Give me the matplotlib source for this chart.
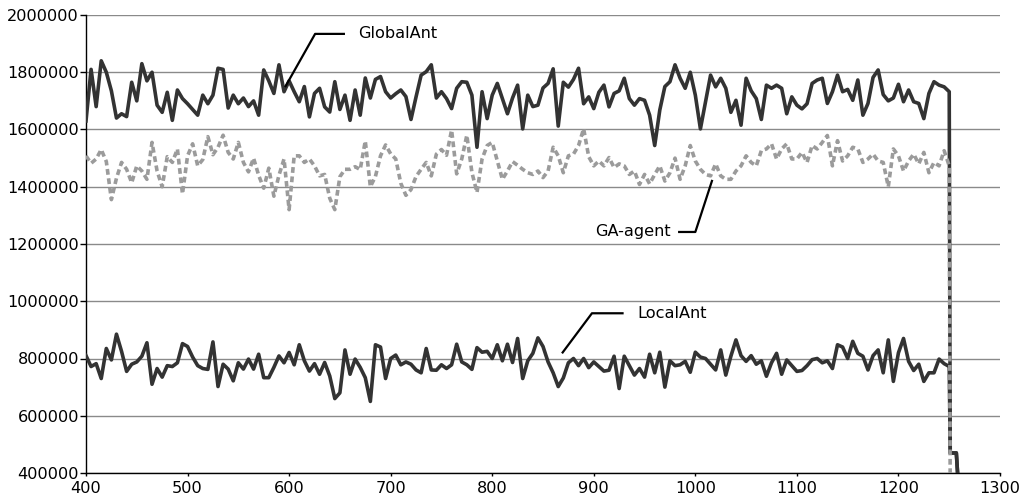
import numpy as np
import matplotlib
matplotlib.use("Agg")
import matplotlib.pyplot as plt
from matplotlib.ticker import MultipleLocator, FuncFormatter

# Iterations sampled every 5 steps, values in thousands
iterations = np.arange(400, 1251, 5)

global_ant = [
    1630, 1810, 1680, 1840, 1800, 1735, 1640, 1655, 1645, 1765,
    1700, 1830, 1770, 1800, 1685, 1660, 1730, 1632, 1738, 1708,
    1690, 1670, 1650, 1720, 1690, 1720, 1814, 1810, 1675, 1720,
    1690, 1710, 1680, 1700, 1650, 1808, 1770, 1726, 1826, 1732,
    1770, 1732, 1697, 1750, 1644, 1726, 1744, 1679, 1661, 1767,
    1670, 1720, 1632, 1738, 1650, 1780, 1710, 1775, 1785, 1732,
    1710, 1725, 1738, 1715, 1635, 1714, 1790, 1802, 1826, 1710,
    1732, 1708, 1673, 1744, 1767, 1765, 1720, 1538, 1732, 1638,
    1720, 1761, 1708, 1655, 1710, 1755, 1602, 1720, 1680, 1685,
    1745, 1761, 1812, 1612, 1765, 1748, 1775, 1814, 1690, 1714,
    1673, 1730, 1755, 1679, 1726, 1735, 1779, 1708, 1685, 1708,
    1702, 1650, 1544, 1668, 1750, 1767, 1826, 1779, 1744, 1800,
    1720, 1602, 1697, 1790, 1749, 1779, 1744, 1660, 1702, 1615,
    1779, 1735, 1708, 1635, 1755, 1744, 1755, 1744, 1655, 1714,
    1685, 1672, 1690, 1761, 1773, 1779, 1691, 1732, 1790, 1732,
    1740, 1702, 1773, 1650, 1691, 1782, 1808, 1722, 1700, 1710,
    1758, 1697, 1738, 1697, 1691, 1638, 1726, 1767, 1755, 1749,
    1732,
]

ga_agent = [
    1508, 1482, 1497, 1530, 1488, 1355, 1430, 1485, 1461, 1414,
    1473, 1455, 1426, 1555, 1455, 1400, 1505, 1485, 1532, 1375,
    1508, 1550, 1473, 1495, 1575, 1512, 1538, 1580, 1520, 1497,
    1555, 1485, 1452, 1500, 1440, 1395, 1465, 1367, 1440, 1497,
    1320, 1508, 1508, 1485, 1497, 1473, 1438, 1443, 1360, 1320,
    1435, 1461, 1461, 1470, 1460, 1560, 1400, 1436, 1508, 1546,
    1515, 1497, 1412, 1370, 1390, 1436, 1461, 1485, 1438, 1514,
    1530, 1510, 1598, 1445, 1497, 1580, 1450, 1380, 1497, 1544,
    1555, 1490, 1426, 1455, 1488, 1475, 1461, 1449, 1443, 1455,
    1432, 1455, 1538, 1508, 1449, 1508, 1514, 1544, 1603, 1505,
    1473, 1490, 1473, 1502, 1467, 1480, 1473, 1443, 1455, 1408,
    1443, 1410, 1443, 1473, 1420, 1449, 1500, 1426, 1473, 1544,
    1490, 1461, 1443, 1438, 1480, 1438, 1426, 1426, 1455, 1473,
    1508, 1485, 1473, 1526, 1532, 1550, 1497, 1532, 1550, 1497,
    1497, 1520, 1485, 1544, 1532, 1555, 1579, 1473, 1561, 1490,
    1508, 1538, 1532, 1485, 1497, 1514, 1490, 1485, 1400, 1532,
    1508, 1455, 1490, 1514, 1480, 1520, 1449, 1485, 1473, 1526,
    1473,
]

local_ant = [
    810, 772, 782, 730, 835, 795, 885, 825, 755, 780,
    788, 808, 855, 710, 765, 735, 775, 772, 785, 852,
    842, 805, 775, 765, 762, 858, 702, 780, 763, 722,
    785, 763, 798, 763, 815, 733, 733, 769, 809, 785,
    821, 778, 848, 792, 756, 782, 745, 786, 739, 660,
    680, 830, 745, 798, 769, 733, 650, 848, 840, 730,
    800, 812, 778, 788, 780, 760, 750, 835, 760, 759,
    778, 765, 778, 850, 788, 778, 762, 838, 822, 825,
    800, 848, 792, 850, 786, 870, 730, 792, 818, 872,
    842, 788, 750, 702, 732, 785, 800, 775, 800, 768,
    788, 772, 756, 759, 808, 695, 808, 775, 742, 765,
    735, 815, 750, 822, 700, 792, 775, 778, 790, 752,
    822, 805, 800, 780, 760, 830, 742, 808, 865, 810,
    790, 810, 780, 792, 738, 785, 818, 745, 795, 775,
    755, 758, 775, 796, 800, 785, 792, 765, 848, 840,
    800, 860, 818, 808, 760, 810, 830, 750, 865, 720,
    820, 870, 790, 758, 780, 720, 750, 750, 798, 782,
    772,
]

# Collapse at the end of the run
ant_drop_x = [1251, 1257, 1260]
ant_drop_vals = [470, 470, 300]
ga_drop_x = [1251]
ga_drop_vals = [300]

x_ticks = list(range(400, 1301, 100))
y_ticks = list(range(400000, 2000001, 200000))


def series(vals, tail_x, tail_vals):
    xs = np.concatenate([iterations, tail_x])
    ys = np.concatenate([np.asarray(vals), tail_vals]) * 1000.0
    return xs, ys


plt.rcParams["font.family"] = ["DejaVu Sans"]
plt.rcParams["font.size"] = 11.6

fig = plt.figure(figsize=(10.27, 5.0), dpi=100)
ax = fig.add_axes([86 / 1027, 27 / 500, 914 / 1027, 458 / 500])

dark = "#333333"
gray = "#9b9b9b"

gx, gy = series(global_ant, ant_drop_x, ant_drop_vals)
lx, ly = series(local_ant, ant_drop_x, ant_drop_vals)
ax_, ay = series(ga_agent, ga_drop_x, ga_drop_vals)

ax.plot(gx, gy, color=dark, lw=2.6, solid_joinstyle="round", zorder=3)
ax.plot(lx, ly, color=dark, lw=2.6, solid_joinstyle="round", zorder=3)
ax.plot(ax_, ay, color=gray, lw=2.6, linestyle=(0, (1.6, 1.0)),
        dash_capstyle="butt", zorder=4)

ax.set_xlim(400, 1300)
ax.set_ylim(400000, 2000000)
ax.set_xticks(x_ticks)
ax.set_yticks(y_ticks)
ax.yaxis.set_major_formatter(FuncFormatter(lambda v, p: f"{int(round(v))}"))

ax.grid(axis="y", color="#8a8a8a", lw=1.0)
ax.set_axisbelow(True)
for side in ("top", "right"):
    ax.spines[side].set_visible(False)
for side in ("left", "bottom"):
    ax.spines[side].set_color("black")
    ax.spines[side].set_linewidth(1.0)

ax.tick_params(axis="y", direction="out", length=4.3, width=1.0, pad=0.8,
               labelsize=11.6, colors="black")
ax.tick_params(axis="x", direction="out", length=2.5, width=1.0, pad=3.5,
               labelsize=11.6, colors="black")

# Series labels with leader lines
labels = [
    ("GlobalAnt", [(596, 1748000), (625.6, 1934000), (655, 1934000)], (668, 1936000), "left"),
    ("GA-agent", [(1016.7, 1424000), (1000, 1242000), (983, 1242000)], (975.4, 1242000), "right"),
    ("LocalAnt", [(868.7, 818000), (898.2, 958000), (929.4, 958000)], (943, 958000), "left"),
]
for text, pts, pos, ha in labels:
    px, py = zip(*pts)
    ax.plot(px, py, color="black", lw=1.6, zorder=5, solid_capstyle="butt")
    ax.text(pos[0], pos[1], text, ha=ha, va="center", fontsize=11.6, zorder=6)

fig.savefig("out.png", dpi=100)
